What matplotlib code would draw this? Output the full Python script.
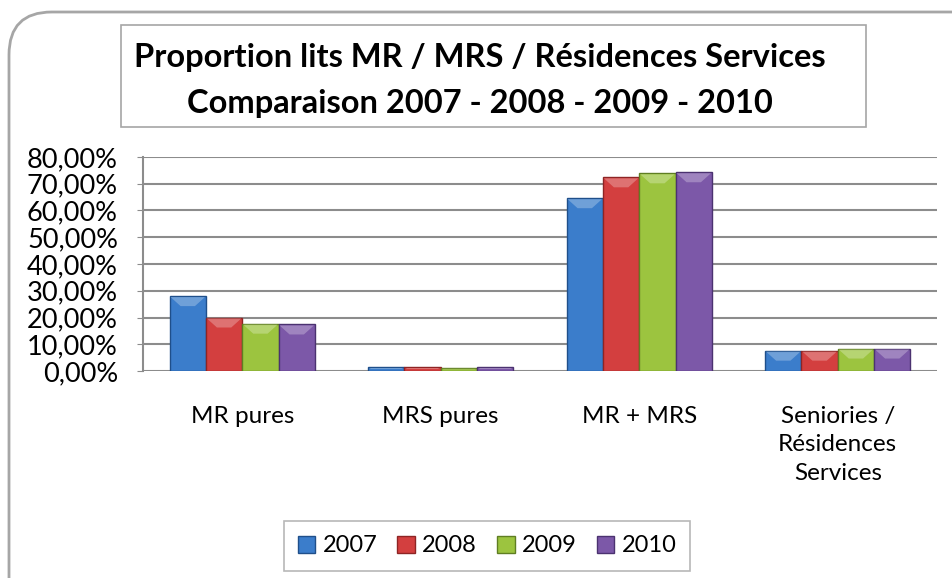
import numpy as np
import matplotlib.pyplot as plt
from matplotlib.patches import FancyBboxPatch, Rectangle, Polygon
from matplotlib.ticker import FuncFormatter
from matplotlib.colors import to_rgb

# Data (percent)
categories = ["MR pures", "MRS pures", "MR + MRS", "Seniories /\nRésidences\nServices"]
years = ["2007", "2008", "2009", "2010"]
v2007 = [28.0, 1.5, 64.6, 7.6]
v2008 = [20.0, 1.5, 72.4, 7.6]
v2009 = [17.7, 1.2, 73.9, 8.4]
v2010 = [17.4, 1.5, 74.3, 8.4]
series = [v2007, v2008, v2009, v2010]
colors = ["#3b7dcb", "#d33f3f", "#9cc43f", "#7c58a8"]
edges = ["#1f4f8a", "#8e2424", "#5f7e22", "#4b3270"]

plt.rcParams["font.family"] = ["Lato", "DejaVu Sans"]

fig = plt.figure(figsize=(9.52, 5.78), dpi=100)
W, H = 952, 578

# outer rounded frame (right and bottom run off the picture)
frame = FancyBboxPatch((9 / W, -0.1), 1.1, 1 - 12 / H + 0.1,
                       boxstyle="round,pad=0,rounding_size=0.045",
                       mutation_aspect=W / H,
                       transform=fig.transFigure, fill=False,
                       edgecolor="#a6a6a6", linewidth=2, clip_on=False)
fig.patches.append(frame)

# title box
fig.patches.append(Rectangle((121 / W, 1 - 127 / H), (866 - 121) / W, (127 - 25) / H,
                             transform=fig.transFigure, fill=False,
                             edgecolor="#a6a6a6", linewidth=1.2))
fig.text(480 / W, 1 - 57 / H, "Proportion lits MR / MRS / Résidences Services",
         ha="center", va="center", fontsize=23.5, fontweight="bold")
fig.text(480 / W, 1 - 103 / H, "Comparaison 2007 - 2008 - 2009 - 2010",
         ha="center", va="center", fontsize=23.5, fontweight="bold")

ax = fig.add_axes([143 / W, 1 - 371 / H, (937 - 143) / W, (371 - 157) / H])
x = np.arange(len(categories))
bw = 0.183
containers = []
for i, (vals, c, e) in enumerate(zip(series, colors, edges)):
    bars = ax.bar(x + (i - 1.5) * bw, vals, bw, color=c, edgecolor=e, linewidth=1,
                  label=years[i], zorder=3)
    containers.append((bars, c))

ax.set_xlim(-0.5, len(categories) - 0.5)
ax.set_ylim(0, 80)
ax.set_yticks(np.arange(0, 81, 10))
ax.yaxis.set_major_formatter(FuncFormatter(lambda v, p: f"{v:.2f}%".replace(".", ",")))
ax.grid(axis="y", color="#8c8c8c", linewidth=1.5, zorder=0)
ax.set_xticks(x)
ax.set_xticklabels(categories, fontsize=17.5, linespacing=1.45)
ax.tick_params(axis="x", length=0, pad=25)
ax.tick_params(axis="y", labelsize=19.5, length=4, color="#8c8c8c", pad=14)
for s in ["top", "right", "bottom"]:
    ax.spines[s].set_visible(False)
ax.spines["left"].set_color("#8c8c8c")
ax.spines["left"].set_linewidth(1.5)

# light bevel on top of each bar (pixel geometry taken from the drawn bars)
for bars, c in containers:
    light = 0.55 * np.array(to_rgb(c)) + 0.45
    for b in bars:
        (x0, y0), (x1, y1) = ax.transData.transform([(b.get_x(), 0),
                                                     (b.get_x() + b.get_width(), b.get_height())])
        h = min(10, (y1 - y0) / 2)
        poly = Polygon([(x0 + 1, y1 - 1), (x1 - 1, y1 - 1), (x1 - 1 - h, y1 - h), (x0 + 1 + h, y1 - h)],
                       closed=True, transform=None, facecolor=light, edgecolor="none",
                       alpha=0.6, zorder=4)
        fig.artists.append(poly)

leg = ax.legend(loc="center", bbox_to_anchor=(487 / W, 1 - 546 / H),
                bbox_transform=fig.transFigure, ncol=4, fontsize=17,
                frameon=True, fancybox=False, edgecolor="#a6a6a6",
                handlelength=0.75, handleheight=0.75, handletextpad=0.3,
                columnspacing=0.85, borderpad=0.6)
leg.get_frame().set_linewidth(1.2)

fig.savefig("out.png", dpi=100)
